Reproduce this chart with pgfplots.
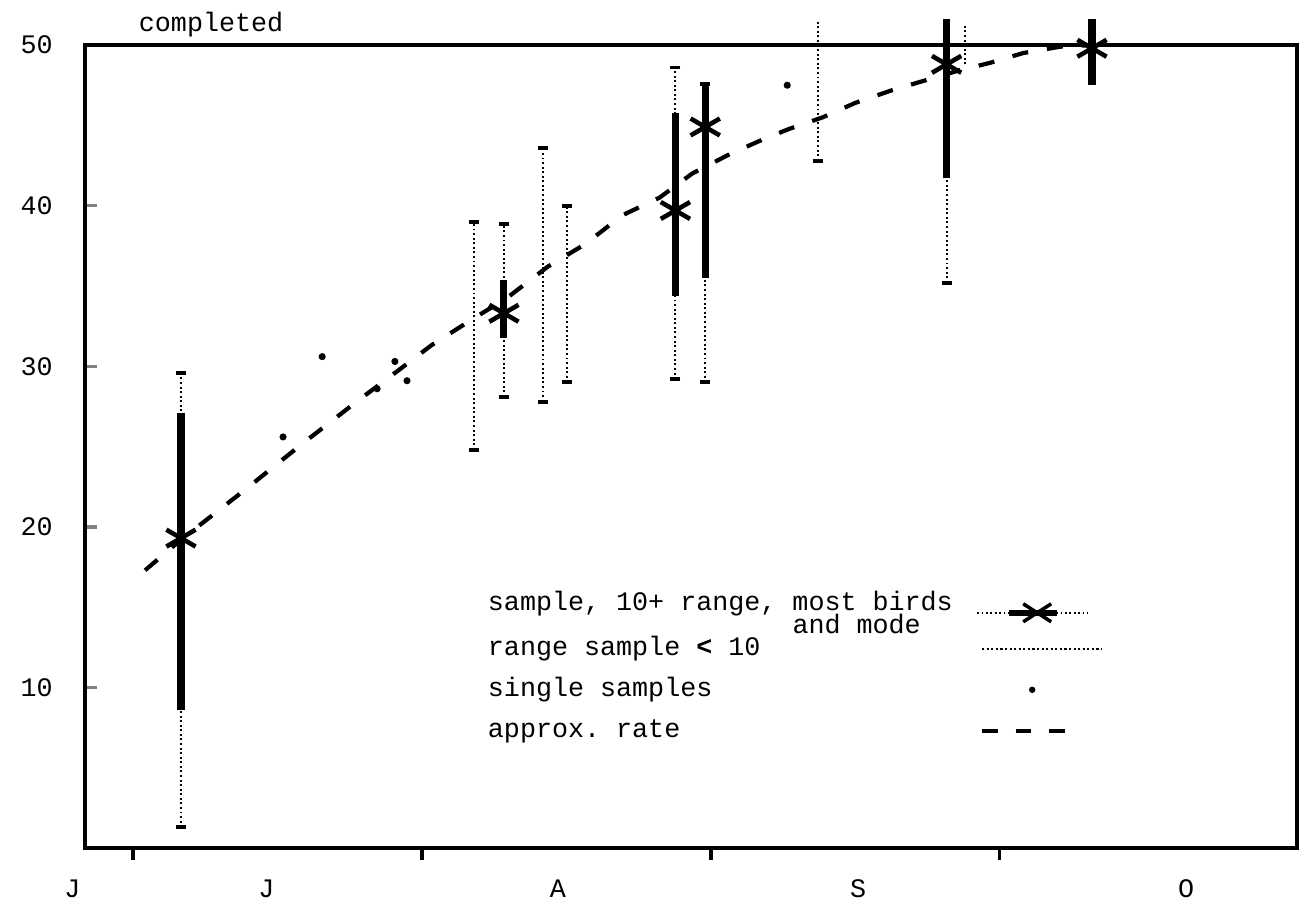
\documentclass[border=0pt]{standalone}
\usepackage{fontspec}
\setmainfont{Liberation Mono}
\usepackage{pgfplots}
\usepackage{pgfplotstable}
\pgfplotsset{compat=1.18}

% x = days from 1 July; samples of 10+ birds
\pgfplotstableread{
x     lo   hi    tlo   thi   mode  cbot  ctop
5.15  1.3  29.6  8.6   27.1  19.3  1.3   29.6
39.8  28.1 38.85 31.75 35.4  33.3  28.1  38.85
58.2  29.2 48.6  34.4  45.8  39.7  29.2  48.6
61.4  29.0 47.6  35.5  47.6  44.9  29.0  47.6
87.3  35.2 51.6  41.7  51.6  48.8  35.2  nan
102.9 47.5 51.6  47.5  51.6  49.8  nan   nan
}\bigsample

% ranges of samples under 10
\pgfplotstableread{
x    lo   hi   cbot ctop
36.6 24.8 39.0 24.8 39.0
44.0 27.8 43.6 27.8 43.6
46.6 29.0 40.0 29.0 40.0
73.5 42.8 51.6 42.8 nan
89.3 48.8 51.2 nan  nan
}\smallsample

\pgfplotstableread{
x    y
16.1 25.6
20.3 30.6
26.2 28.6
28.1 30.3
29.4 29.1
70.2 47.5
}\singles

\pgfplotstableread{
x     y
1.3   17.3
5.15  19.2
12.0  22.3
18.0  25.1
24.0  27.8
28.6  29.8
32.0  31.3
36.6  33.0
40.0  34.2
44.5  36.2
48.5  37.6
52.5  39.4
56.5  40.5
60.0  42.0
64.0  43.2
67.5  44.1
70.5  44.8
74.0  45.5
77.5  46.4
81.5  47.2
85.0  47.8
88.5  48.4
92.0  48.9
95.5  49.5
99.5  49.9
103.0 50.0
}\rate

\begin{document}
\begin{tikzpicture}[font=\fontsize{7.6}{9}\selectfont]
\begin{axis}[
  scale only axis, width=121.2mm, height=80.3mm,
  xmin=-5.15, xmax=124.9, ymin=0, ymax=50,
  clip=false,
  axis line style={line width=1pt},
  tick align=inside, major tick length=1.2mm,
  xtick={14.3,45.6,77.8,113}, xticklabels={J,A,S,O},
  xtick pos=bottom, xtick style={draw=none},
  xticklabel style={anchor=base, yshift=-4.9mm},
  extra x ticks={0,31,62,93}, extra x tick labels={},
  extra x tick style={xtick style={draw=black, line width=1pt, yshift=-1.2mm}},
  ytick={10,20,30,40,50}, ytick pos=left, ytick style={line width=1pt},
  yticklabel style={xshift=-2mm},
  /pgf/number format/assume math mode=true,
  legend plot pos=right,
  legend cell align=left,
  legend style={at={(rel axis cs:0.329,0.325)}, anchor=north west,
    draw=none, fill=none, inner sep=0pt, row sep=2.6pt, column sep=2mm,
    nodes={inner sep=1pt, text height=5.5pt, text depth=1.6pt}},
]
\addlegendimage{legend image code/.code={
  \draw[line width=0.5pt, dash pattern=on 0.5pt off 0.75pt] (0mm,-0.9mm) -- (11mm,-0.9mm);
  \draw[line width=1.6pt] (3.2mm,-0.9mm) -- (8mm,-0.9mm);
  \draw[line width=1pt] (6mm,-0.9mm) +(-1.4mm,-0.9mm) -- +(1.4mm,0.9mm) +(-1.4mm,0.9mm) -- +(1.4mm,-0.9mm);}}
\addlegendentry{sample, 10+ range, most birds\llap{\smash{\raisebox{-6.6pt}{and mode\phantom{xx}}}}}
\addlegendimage{legend image code/.code={
  \draw[line width=0.6pt, dash pattern=on 0.6pt off 0.7pt] (0.5mm,0mm) -- (12.5mm,0mm);}}
\addlegendentry{range sample {\bfseries <} 10}
\addlegendimage{legend image code/.code={
  \fill (5.5mm,0mm) circle (0.7pt);}}
\addlegendentry{single samples}
\addlegendimage{legend image code/.code={
  \draw[line width=1.2pt, dash pattern=on 4.5pt off 5pt] (0.5mm,0mm) -- (9mm,0mm);}}
\addlegendentry{approx.\ rate}

% full ranges (dotted)
\addplot[forget plot, draw=none, mark=none, error bars/.cd, y dir=plus, y explicit,
  error bar style={draw=black, solid, line width=0.55pt, dash pattern=on 0.55pt off 0.75pt}, error mark=none]
  table[x=x, y=lo, y error expr=\thisrow{hi}-\thisrow{lo}] {\bigsample};
\addplot[forget plot, draw=none, mark=none, error bars/.cd, y dir=plus, y explicit,
  error bar style={draw=black, solid, line width=0.55pt, dash pattern=on 0.55pt off 0.75pt}, error mark=none]
  table[x=x, y=lo, y error expr=\thisrow{hi}-\thisrow{lo}] {\smallsample};
% range of most birds (thick)
\addplot[forget plot, draw=none, mark=none, error bars/.cd, y dir=plus, y explicit,
  error bar style={draw=black, solid, line width=2pt}, error mark=none]
  table[x=x, y=tlo, y error expr=\thisrow{thi}-\thisrow{tlo}] {\bigsample};
% end caps
\addplot[forget plot, only marks, mark=-, mark size=1.4pt, mark options={line width=1.1pt}] table[x=x, y=cbot] {\bigsample};
\addplot[forget plot, only marks, mark=-, mark size=1.4pt, mark options={line width=1.1pt}] table[x=x, y=ctop] {\bigsample};
\addplot[forget plot, only marks, mark=-, mark size=1.4pt, mark options={line width=1.1pt}] table[x=x, y=cbot] {\smallsample};
\addplot[forget plot, only marks, mark=-, mark size=1.4pt, mark options={line width=1.1pt}] table[x=x, y=ctop] {\smallsample};
% approx. rate
\addplot[forget plot, line width=1.2pt, dash pattern=on 4.6pt off 5.4pt] table[x=x, y=y] {\rate};
% modes
\addplot[forget plot, only marks, mark=asterisk, mark size=4.8pt, mark options={line width=1.3pt}] table[x=x, y=mode] {\bigsample};
% single samples
\addplot[forget plot, only marks, mark=*, mark size=0.8pt] table[x=x, y=y] {\singles};

\node[anchor=base] at (axis cs:-6.5,0) [yshift=-4.9mm] {J};
\node[anchor=base] at (rel axis cs:0.104,1) [yshift=1.4mm] {completed};
\end{axis}
\path ([shift={(-8.5mm,-5.8mm)}]current axis.south west) rectangle ([shift={(1.2mm,4mm)}]current axis.north east);
\end{tikzpicture}
\end{document}
